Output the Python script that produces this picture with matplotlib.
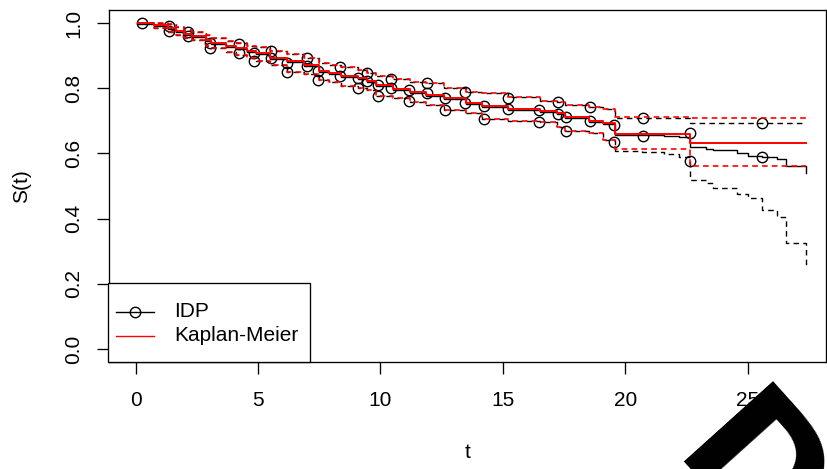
import numpy as np
import matplotlib
matplotlib.use("Agg")
import matplotlib.pyplot as plt
from matplotlib.patches import Rectangle
from matplotlib.lines import Line2D

plt.rcParams['font.family'] = ['Liberation Sans', 'DejaVu Sans']

# ---------------- data ----------------
t_end = 27.4

# Kaplan-Meier: event times, estimate, upper and lower bands
km_t = [0.10, 0.75, 1.30, 1.65, 1.97, 2.31, 2.86, 3.06, 3.68, 4.08, 4.56, 4.90,
        5.50, 6.20, 6.87, 7.50, 7.90, 8.40, 9.10, 9.45, 9.80, 10.50, 11.20,
        11.85, 12.60, 13.50, 14.15, 15.20, 16.50, 17.20, 17.55, 18.50, 19.10,
        19.58, 22.65]
km_est = [1.000, 0.993, 0.985, 0.975, 0.967, 0.960, 0.947, 0.940, 0.929, 0.923,
          0.913, 0.907, 0.892, 0.882, 0.871, 0.853, 0.846, 0.836, 0.831, 0.822,
          0.810, 0.799, 0.789, 0.779, 0.769, 0.756, 0.745, 0.736, 0.731, 0.723,
          0.711, 0.700, 0.692, 0.660, 0.631]
km_hi = [1.000, 1.000, 0.996, 0.988, 0.980, 0.972, 0.962, 0.955, 0.944, 0.938,
         0.930, 0.925, 0.914, 0.904, 0.894, 0.876, 0.870, 0.866, 0.855, 0.848,
         0.838, 0.828, 0.820, 0.815, 0.800, 0.789, 0.784, 0.772, 0.762, 0.759,
         0.748, 0.741, 0.735, 0.712, 0.710]
km_lo = [1.000, 0.985, 0.972, 0.962, 0.955, 0.947, 0.930, 0.922, 0.910, 0.903,
         0.893, 0.885, 0.870, 0.851, 0.843, 0.825, 0.818, 0.808, 0.800, 0.795,
         0.777, 0.770, 0.759, 0.750, 0.733, 0.725, 0.705, 0.698, 0.697, 0.680,
         0.670, 0.662, 0.640, 0.612, 0.561]

# IDP estimate and bands (own step grid, continues past the last KM event)
idp_t = [0.10, 0.75, 1.30, 1.65, 1.97, 2.31, 2.86, 3.06, 3.68, 4.08, 4.56, 4.90,
         5.50, 6.20, 6.87, 7.50, 7.90, 8.40, 9.10, 9.45, 9.80, 10.50, 11.20,
         11.85, 12.60, 13.50, 14.15, 15.20, 16.50, 17.20, 17.55, 18.50, 19.10,
         19.58, 20.70, 21.60, 22.20, 22.65, 23.30, 23.60, 24.55, 25.00, 25.60,
         26.20, 26.55, 27.37]
idp_est = [0.998, 0.990, 0.982, 0.972, 0.964, 0.957, 0.944, 0.937, 0.926, 0.920,
           0.910, 0.904, 0.889, 0.879, 0.868, 0.850, 0.843, 0.833, 0.828, 0.819,
           0.807, 0.796, 0.786, 0.776, 0.766, 0.753, 0.742, 0.733, 0.728, 0.720,
           0.708, 0.697, 0.689, 0.658, 0.655, 0.652, 0.650, 0.621, 0.615, 0.610,
           0.600, 0.592, 0.590, 0.583, 0.562, 0.539]
idp_hi = [1.000, 1.000, 0.996, 0.988, 0.980, 0.972, 0.962, 0.955, 0.944, 0.938,
          0.930, 0.925, 0.914, 0.904, 0.894, 0.876, 0.870, 0.866, 0.855, 0.848,
          0.838, 0.828, 0.820, 0.815, 0.800, 0.789, 0.784, 0.772, 0.762, 0.759,
          0.748, 0.741, 0.735, 0.710, 0.710, 0.710, 0.710, 0.692, 0.692, 0.692,
          0.692, 0.692, 0.692, 0.692, 0.692, 0.692]
idp_lo = [1.000, 0.985, 0.972, 0.962, 0.955, 0.947, 0.930, 0.922, 0.910, 0.903,
          0.893, 0.885, 0.870, 0.851, 0.843, 0.825, 0.818, 0.808, 0.800, 0.795,
          0.777, 0.770, 0.759, 0.750, 0.733, 0.725, 0.705, 0.698, 0.697, 0.680,
          0.670, 0.662, 0.640, 0.608, 0.603, 0.597, 0.590, 0.518, 0.508, 0.495,
          0.475, 0.462, 0.426, 0.406, 0.324, 0.258]

# circle markers on the IDP curves
circ_t = [0.27, 1.36, 1.36, 2.14, 2.14, 3.04, 3.04, 4.22, 4.22, 4.85, 4.85,
          5.51, 5.51, 6.20, 6.20, 6.99, 6.99, 7.45, 7.45, 8.33, 8.33, 9.08, 9.08,
          9.46, 9.46, 9.91, 9.91, 10.44, 10.44, 11.18, 11.18, 11.89, 11.89,
          12.62, 12.62, 13.46, 13.46, 14.22, 14.22, 15.20, 15.20, 16.49, 16.49,
          17.26, 17.26, 17.57, 17.57, 18.54, 18.54, 19.53, 19.53, 20.73, 20.73,
          22.63, 22.63, 25.60, 25.60]
circ_v = [1.000, 0.990, 0.976, 0.973, 0.960, 0.939, 0.922, 0.937, 0.907, 0.907,
          0.883, 0.914, 0.892, 0.876, 0.851, 0.894, 0.867, 0.853, 0.825, 0.866,
          0.836, 0.830, 0.800, 0.848, 0.822, 0.810, 0.777, 0.829, 0.800, 0.796,
          0.760, 0.815, 0.784, 0.770, 0.734, 0.789, 0.755, 0.744, 0.705, 0.771,
          0.735, 0.734, 0.697, 0.759, 0.722, 0.711, 0.670, 0.741, 0.698, 0.686,
          0.636, 0.710, 0.654, 0.663, 0.576, 0.693, 0.590]

x_ticks = [0, 5, 10, 15, 20, 25]
y_ticks = [0.0, 0.2, 0.4, 0.6, 0.8, 1.0]
y_tick_labels = ["0.0", "0.2", "0.4", "0.6", "0.8", "1.0"]
legend_labels = ["IDP", "Kaplan-Meier"]

# ---------------- drawing ----------------
W, H = 827, 469
fig = plt.figure(figsize=(W / 100, H / 100), dpi=100)
ax = fig.add_axes([109 / W, 1 - 362 / H, 717 / W, 352 / H])

FS = 15
DASH = (4.0, 3.0)


def stairs(t, v):
    return np.append(t, t_end), np.append(v, v[-1])


# IDP (black)
x, y = stairs(idp_t, idp_est)
ax.step(x, y, where='post', color='black', lw=1.0)
for band in (idp_hi, idp_lo):
    x, y = stairs(idp_t, band)
    ax.step(x, y, where='post', color='black', lw=1.0, dashes=DASH)
ax.plot(circ_t, circ_v, linestyle='none', marker='o', markersize=7.5,
        markerfacecolor='none', markeredgecolor='black', markeredgewidth=1.0)

# Kaplan-Meier (red)
x, y = stairs(km_t, km_est)
ax.step(x, y, where='post', color='#ff0000', lw=1.4)
for band in (km_hi, km_lo):
    x, y = stairs(km_t, band)
    ax.step(x, y, where='post', color='#ff0000', lw=1.2, dashes=(3.4, 2.5))

ax.set_xlim(-1.09, 28.2)
ax.set_ylim(-0.04, 1.04)
ax.set_xticks(x_ticks)
ax.set_xticklabels([str(v) for v in x_ticks])
ax.set_yticks(y_ticks)
ax.set_yticklabels(y_tick_labels, rotation=90, va='center')
ax.tick_params(axis='both', length=8.6, width=0.95, labelsize=FS, color='black')
ax.tick_params(axis='x', pad=12)
ax.tick_params(axis='y', pad=10)
for s in ax.spines.values():
    s.set_linewidth(0.95)

fig.text(467.5 / W, 1 - 452 / H, "t", fontsize=FS, ha='center', va='center')
fig.text(22 / W, 1 - 186 / H, "S(t)", fontsize=FS, ha='center', va='center',
         rotation=90)

# legend (bottom-left box)
def axfx(px):
    return (px - 109) / 717


def axfy(py):
    return (362 - py) / 352


ax.add_patch(Rectangle((axfx(108), axfy(362)), axfx(310) - axfx(108),
                       axfy(283) - axfy(362), transform=ax.transAxes,
                       facecolor='white', edgecolor='black', lw=0.95,
                       clip_on=False, zorder=5))
rows = [(311.7, 'black', True), (335.7, '#ff0000', False)]
for (py, col, mk), lab in zip(rows, legend_labels):
    ax.add_line(Line2D([axfx(116), axfx(154)], [axfy(py), axfy(py)],
                       transform=ax.transAxes, color=col, lw=1.0, zorder=6,
                       clip_on=False))
    if mk:
        ax.add_line(Line2D([axfx(135)], [axfy(py)], transform=ax.transAxes,
                           marker='o', markersize=7.5, markerfacecolor='none',
                           markeredgecolor='black', markeredgewidth=1.0,
                           zorder=6, clip_on=False))
    ax.text(axfx(174), axfy(py), lab, transform=ax.transAxes, fontsize=FS,
            ha='left', va='center', zorder=7)

# large rotated glyph in the lower-right corner (partly outside the canvas)
fig.text(668 / W, 1 - 461 / H, "D", fontsize=118, fontweight='bold',
         family='DejaVu Sans', color='black', rotation=-48,
         rotation_mode='anchor', ha='left', va='baseline', zorder=10)

fig.savefig("out.png", dpi=100)
